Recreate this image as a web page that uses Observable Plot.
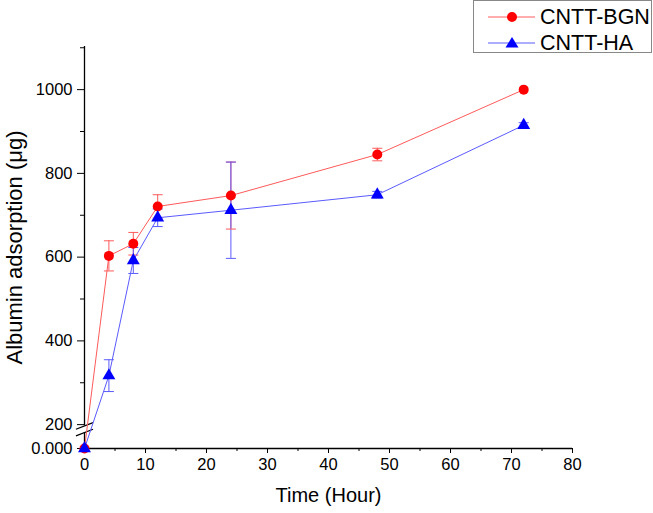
<!DOCTYPE html>
<html>
<head>
<meta charset="utf-8">
<script src="https://cdn.jsdelivr.net/npm/d3@7"></script>
<script src="https://cdn.jsdelivr.net/npm/@observablehq/plot@0.6"></script>
<style>
  html, body { margin: 0; padding: 0; background: #fff; }
  #wrap { position: relative; width: 653px; height: 513px; font-family: "Liberation Sans", Arial, sans-serif; }
  #legend { position: absolute; left: 473px; top: 0px; width: 179px; height: 53px; border: 1px solid #888; background: #fff; box-sizing: border-box; }
  .row { position: absolute; left: 0; height: 24px; display: flex; align-items: center; font-size: 21.5px; color: #000; }
  .row svg { margin-left: 14px; margin-right: 5px; }
</style>
</head>
<body>
<div id="wrap"></div>
<script>
// ---- data ----
const hours   = [0, 4, 8, 12, 24, 48, 72];
const bgn     = [0, 603, 632, 721, 747, 845, 1000];
const bgnErr  = [0, 36, 27, 28, 80, 15, 0];
const ha      = [0, 317, 592, 694, 712, 749, 915];
const haErr   = [0, 38, 31, 21, 115, 8, 6];
const seriesNames = ["CNTT-BGN", "CNTT-HA"];
const seriesColors = ["#ff0000", "#0000ff"];
const errColors = ["#ff5a5a", "#5a5aff"];
const xTicks = [0, 10, 20, 30, 40, 50, 60, 70, 80];
const xMinor = [5, 15, 25, 35, 45, 55, 65, 75];
const yTicks = [200, 400, 600, 800, 1000];
const yMinor = [300, 500, 700, 900, 1100];

// broken axis: values below 200 are compressed
const BREAK_LO = 143;
const disp = v => v >= 200 ? v : BREAK_LO + v * (200 - BREAK_LO) / 200;

const rows = [];
hours.forEach((h, i) => {
  rows.push({s: seriesNames[0], x: h, y: bgn[i], e: bgnErr[i]});
  rows.push({s: seriesNames[1], x: h, y: ha[i], e: haErr[i]});
});
const errRows = rows.filter(d => d.e > 0);
const capSym = { draw(ctx) { ctx.moveTo(-5, 0); ctx.lineTo(5, 0); } };
const color = s => seriesColors[seriesNames.indexOf(s)];
const ecolor = s => errColors[seriesNames.indexOf(s)];
const breaks = [181, 197];

const font = "Liberation Sans, Arial, sans-serif";
const chart = Plot.plot({
  width: 653, height: 513,
  marginLeft: 84, marginRight: 81, marginTop: 46, marginBottom: 65,
  style: { fontFamily: font, fontSize: "16px", background: "#fff" },
  x: { domain: [0, 80] },
  y: { domain: [BREAK_LO, 1103] },
  marks: [
    // axis lines
    Plot.ruleY([BREAK_LO], { x1: 0, x2: 80, stroke: "#000", strokeWidth: 1.3 }),
    Plot.ruleX([0], { y1: BREAK_LO, y2: breaks[0], stroke: "#000", strokeWidth: 1.3 }),
    Plot.ruleX([0], { y1: breaks[1], y2: 1103, stroke: "#000", strokeWidth: 1.3 }),
    Plot.link(breaks, { x1: -1.4, x2: 1.4, y1: d => d - 8, y2: d => d + 8, stroke: "#000", strokeWidth: 1.3 }),
    Plot.axisX({ ticks: xTicks, tickSize: 5, tickPadding: 5, fontSize: 16.5, label: null, stroke: "#000" }),
    Plot.axisX({ ticks: xMinor, tickSize: 3, tickFormat: () => "", label: null }),
    Plot.axisY({ ticks: [BREAK_LO, ...yTicks], tickSize: 7, tickPadding: 5, fontSize: 16.5, label: null,
      tickFormat: d => d === BREAK_LO ? "0.000" : String(d) }),
    Plot.axisY({ ticks: yMinor, tickSize: 4, tickFormat: () => "", label: null }),
    // titles
    Plot.text(["Albumin adsorption (μg)"], { frameAnchor: "left", textAnchor: "middle", lineAnchor: "middle", rotate: -90, dx: -70, fontSize: 22, fill: "#000" }),
    Plot.text(["Time (Hour)"], { frameAnchor: "bottom", lineAnchor: "middle", dy: 47, fontSize: 20, fill: "#000" }),
    // error bars
    Plot.ruleX(errRows, { x: "x", y1: d => disp(d.y - d.e), y2: d => disp(d.y + d.e), stroke: d => ecolor(d.s), strokeWidth: 1 }),
    Plot.dot(errRows, { x: "x", y: d => disp(d.y - d.e), symbol: capSym, stroke: d => ecolor(d.s), strokeWidth: 1 }),
    Plot.dot(errRows, { x: "x", y: d => disp(d.y + d.e), symbol: capSym, stroke: d => ecolor(d.s), strokeWidth: 1 }),
    // lines
    Plot.line(rows, { x: "x", y: d => disp(d.y), z: "s", stroke: d => ecolor(d.s), strokeWidth: 1 }),
    // markers
    Plot.dot(rows.filter(d => d.s === seriesNames[0]), { x: "x", y: d => disp(d.y), r: 5, symbol: "circle", fill: seriesColors[0] }),
    Plot.dot(rows.filter(d => d.s === seriesNames[1]), { x: "x", y: d => disp(d.y), r: 4.8, symbol: "triangle", fill: seriesColors[1] })
  ]
});
const wrap = document.getElementById("wrap");
wrap.appendChild(chart);

// legend
const legend = document.createElement("div");
legend.id = "legend";
seriesNames.forEach((name, i) => {
  const row = document.createElement("div");
  row.className = "row";
  row.style.top = (i === 0 ? 4 : 30) + "px";
  const mk = i === 0
    ? `<circle cx="24" cy="8" r="5" fill="${seriesColors[i]}"/>`
    : `<path d="M24,2 L30.5,12.5 L17.5,12.5 Z" fill="${seriesColors[i]}"/>`;
  row.innerHTML = `<svg width="47" height="16"><line x1="0" x2="47" y1="8" y2="8" stroke="${errColors[i]}" stroke-width="1"/>${mk}</svg><span>${name}</span>`;
  legend.appendChild(row);
});
wrap.appendChild(legend);
</script>
</body>
</html>
